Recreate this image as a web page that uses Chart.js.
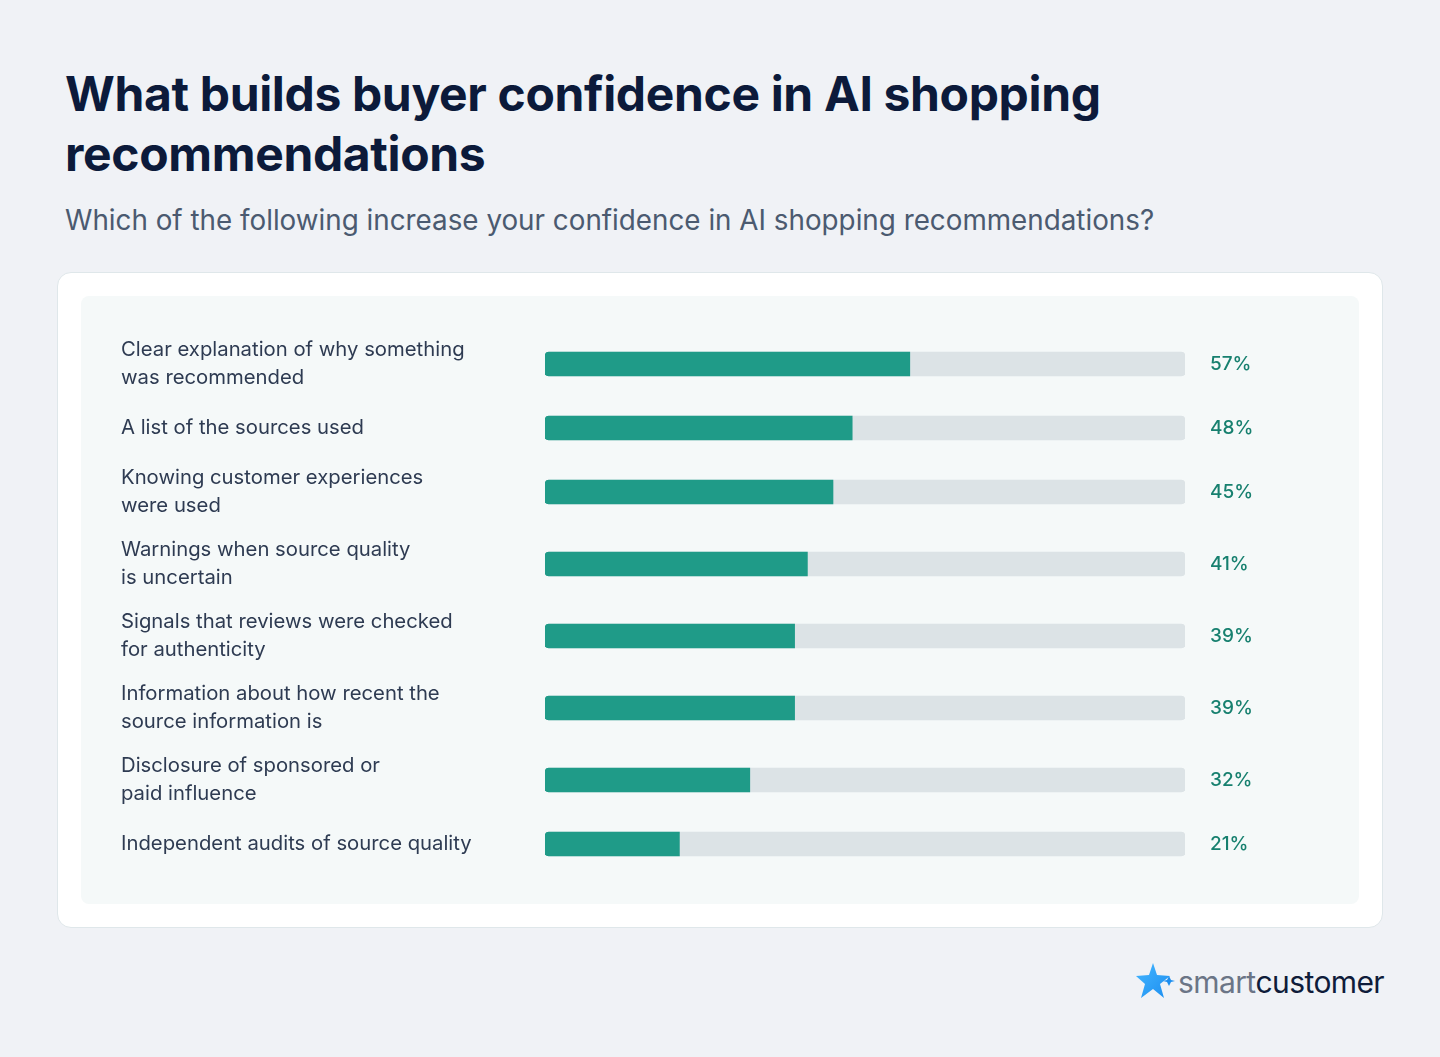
<!DOCTYPE html>
<html>
<head>
<meta charset="utf-8">
<script src="https://cdn.jsdelivr.net/npm/chart.js@4.4.1/dist/chart.umd.min.js"></script>
<style>
    body {
        margin: 0;
        width: 1440px;
        height: 1057px;
        background: #f0f2f6;
        font-family: Inter, "Noto Sans", sans-serif;
        position: relative;
        overflow: hidden;
    }
    h1 {
        position: absolute;
        left: 65px;
        top: 64px;
        margin: 0;
        font-size: 48px;
        line-height: 60px;
        font-weight: 700;
        color: #0c1a3a;
        width: 1200px;
        letter-spacing: -0.35px;
    }
    .subtitle {
        position: absolute;
        left: 65px;
        top: 202px;
        margin: 0;
        font-size: 27.8px;
        line-height: 36px;
        color: #4b5a70;
    }
    .card {
        position: absolute;
        left: 57px;
        top: 272px;
        width: 1324px;
        height: 654px;
        background: #ffffff;
        border: 1px solid #dfe7ea;
        border-radius: 14px;
    }
    .panel {
        position: absolute;
        left: 81px;
        top: 296px;
        width: 1278px;
        height: 608px;
        background: #f5f9f9;
        border-radius: 8px;
    }
    .logo {
        position: absolute;
        left: 1136px;
        top: 962px;
        display: flex;
        align-items: center;
        height: 40px;
    }
    .logo span {
        font-size: 30px;
        letter-spacing: -0.6px;
    }
</style>
</head>
<body>
<h1>What builds buyer confidence in AI shopping recommendations</h1>
<p class="subtitle">Which of the following increase your confidence in AI shopping recommendations?</p>
<div class="card"></div>
<div class="panel">
    <canvas id="chart" width="1278" height="608"></canvas>
</div>
<div class="logo">
    <svg width="42" height="40" viewBox="0 0 42 40">
        <defs>
            <linearGradient id="g" x1="0" y1="0" x2="1" y2="1">
                <stop offset="0" stop-color="#45b6ff"/>
                <stop offset="1" stop-color="#1c8ef0"/>
            </linearGradient>
        </defs>
        <polygon points="17,1 21,13 34,14 24,22 28,36 17,27 5,36 9,22 0,14 13,13" fill="url(#g)"/>
        <polygon points="33,14 35,18 39,19 35,20 33,24 31,20 27,19 31,18" fill="#1c8ef0"/>
    </svg>
    <span style="color:#6b7586;">smart</span><span style="color:#0f1c3a;">customer</span>
</div>

<script>
const categories = [
    ['Clear explanation of why something', 'was recommended'],
    'A list of the sources used',
    ['Knowing customer experiences', 'were used'],
    ['Warnings when source quality', 'is uncertain'],
    ['Signals that reviews were checked', 'for authenticity'],
    ['Information about how recent the', 'source information is'],
    ['Disclosure of sponsored or', 'paid influence'],
    'Independent audits of source quality'
];
const shares = [57, 48, 45, 41, 39, 39, 32, 21];
const trackMax = 100;

// rows with two-line labels take more room, like the original layout
const rowHeights = categories.map(c => Array.isArray(c) ? 72 : 56);
const rowCenters = [];
let acc = 0;
rowHeights.forEach(h => {
    rowCenters.push(acc + h / 2);
    acc += h;
});
const totalHeight = acc;

const valueLabels = {
    id: 'valueLabels',
    afterDatasetsDraw(chart) {
        const ctx = chart.ctx;
        const meta = chart.getDatasetMeta(0);
        ctx.save();
        ctx.font = '500 19px Inter, sans-serif';
        ctx.fillStyle = '#17806f';
        ctx.textAlign = 'left';
        ctx.textBaseline = 'middle';
        meta.data.forEach((bar, i) => {
            ctx.fillText(shares[i] + '%', chart.chartArea.right + 25, bar.y);
        });
        ctx.restore();
    }
};

new Chart(document.getElementById('chart'), {
    type: 'bar',
    data: {
        datasets: [
            {
                data: shares.map((v, i) => ({ x: v, y: rowCenters[i] })),
                backgroundColor: '#1f9b88',
                borderRadius: { topLeft: 4, bottomLeft: 4, topRight: 0, bottomRight: 0 },
                borderSkipped: false,
                barThickness: 24,
                grouped: false,
                order: 1
            },
            {
                data: shares.map((v, i) => ({ x: trackMax, y: rowCenters[i] })),
                backgroundColor: '#dce3e6',
                borderRadius: 4,
                borderSkipped: false,
                barThickness: 24,
                grouped: false,
                order: 2
            }
        ]
    },
    options: {
        indexAxis: 'y',
        responsive: false,
        animation: false,
        layout: { padding: { left: 40, right: 174, top: 32, bottom: 32 } },
        plugins: {
            legend: { display: false },
            tooltip: { enabled: false }
        },
        scales: {
            x: { type: 'linear', min: 0, max: trackMax, display: false },
            y: {
                type: 'linear',
                min: 0,
                max: totalHeight,
                reverse: true,
                offset: false,
                grid: { display: false },
                border: { display: false },
                afterFit(scale) {
                    scale.width = 424;
                    scale.paddingTop = 0;
                    scale.paddingBottom = 0;
                },
                afterBuildTicks(scale) {
                    scale.ticks = rowCenters.map(v => ({ value: v }));
                },
                ticks: {
                    autoSkip: false,
                    crossAlign: 'far',
                    color: '#2e3b52',
                    font: { family: 'Inter', size: 20.3, lineHeight: 1.38 },
                    callback: (value, index) => categories[index]
                }
            }
        }
    },
    plugins: [valueLabels]
});
</script>
</body>
</html>
